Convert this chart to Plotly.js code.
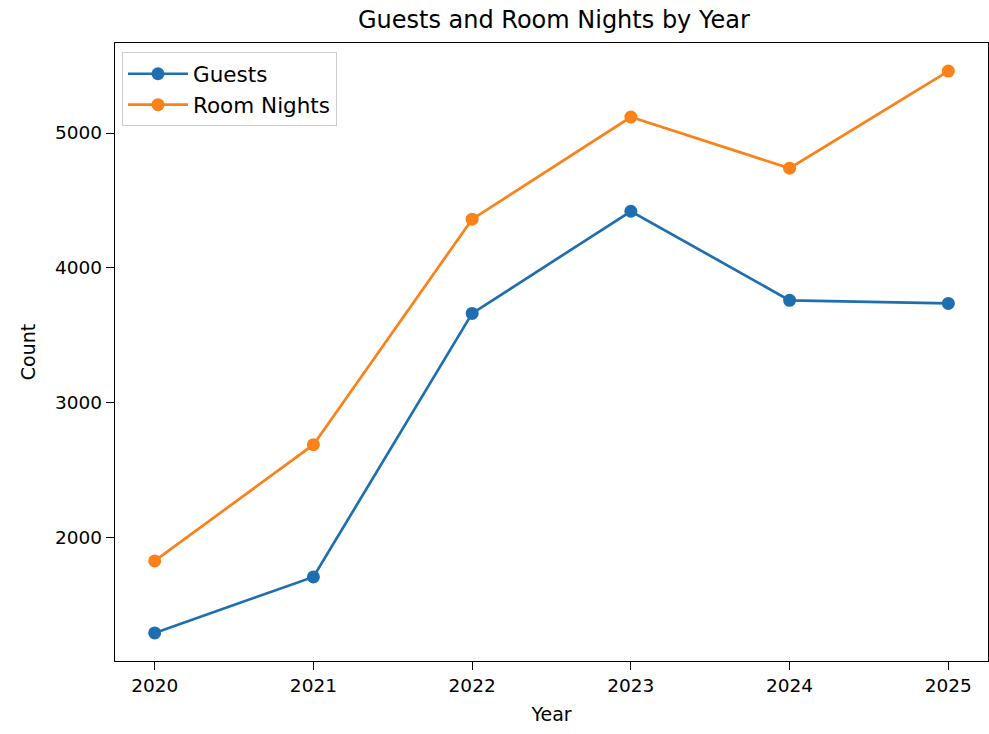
<!DOCTYPE html>
<html><head><meta charset="utf-8">
<script src="https://cdn.plot.ly/plotly-3.0.1.min.js"></script>
<style>html,body{margin:0;padding:0;background:#fff}#chart{width:989px;height:734px}</style>
</head><body><div id="chart"></div>
<script>
const years = [2020, 2021, 2022, 2023, 2024, 2025];
const guests = [1295, 1710, 3663, 4420, 3760, 3737];
const roomNights = [1829, 2690, 4361, 5118, 4739, 5459];
const yTicks = [2000, 3000, 4000, 5000];

const font = "DejaVu Sans, sans-serif";
const traces = [
  {x: years, y: guests, name: "Guests", type: "scatter", mode: "lines+markers",
   line: {color: "#1f6fb0", width: 2.7}, marker: {color: "#1f6fb0", size: 13}},
  {x: years, y: roomNights, name: "Room Nights", type: "scatter", mode: "lines+markers",
   line: {color: "#fb8119", width: 2.7}, marker: {color: "#fb8119", size: 13}}
];
const layout = {
  width: 989, height: 734,
  margin: {l: 115, r: 1, t: 43, b: 73},
  paper_bgcolor: "#fff", plot_bgcolor: "#fff",
  font: {family: font, color: "#000", size: 18.5},
  title: {text: "Guests and Room Nights by Year", font: {size: 24, family: font}, x: 0.56, xanchor: "center", y: 0.973, yanchor: "middle"},
  showlegend: true,
  legend: {x: 0.008, y: 0.985, xanchor: "left", yanchor: "top", bgcolor: "rgba(255,255,255,0.8)",
           bordercolor: "#ccc", borderwidth: 1, font: {size: 21.5, family: font}, itemwidth: 60,
           tracegroupgap: 0},
  xaxis: {range: [2019.75, 2025.25], tickvals: years, ticktext: years.map(String),
          showgrid: false, zeroline: false, showline: true, linecolor: "#000", linewidth: 1.3, mirror: true,
          ticks: "outside", ticklen: 8, tickcolor: "#000",
          title: {text: "Year", font: {size: 19, family: font}, standoff: 12}},
  yaxis: {range: [1087, 5667], tickvals: yTicks, ticktext: yTicks.map(String),
          showgrid: false, zeroline: false, showline: true, linecolor: "#000", linewidth: 1.3, mirror: true,
          ticks: "outside", ticklen: 8, tickcolor: "#000",
          title: {text: "Count", font: {size: 19, family: font}, standoff: 14}}
};
Plotly.newPlot("chart", traces, layout, {displayModeBar: false});
</script></body></html>
